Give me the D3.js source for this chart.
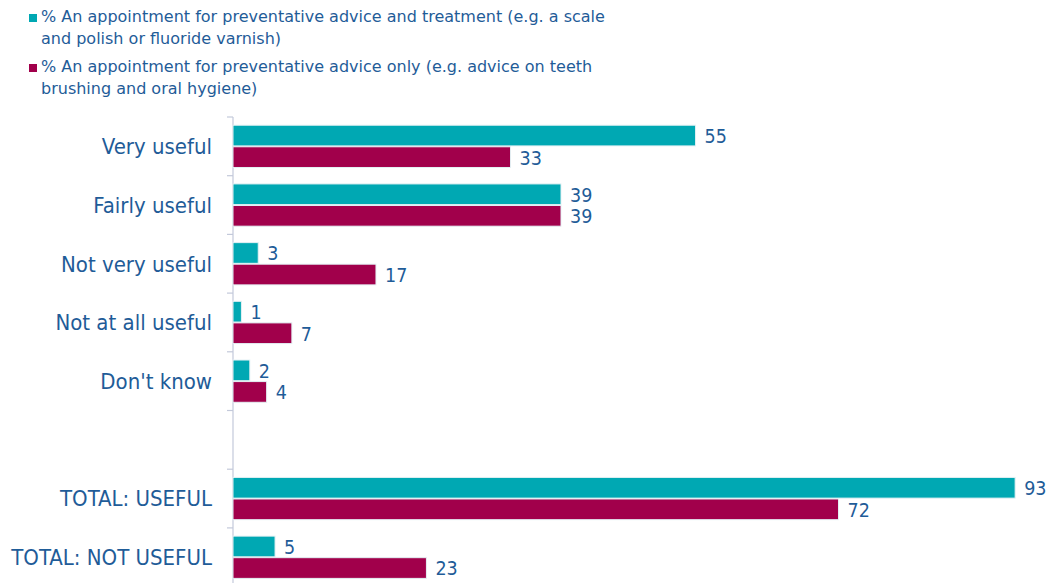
<!DOCTYPE html>
<html>
<head>
<meta charset="utf-8">
<script src="https://cdn.jsdelivr.net/npm/d3@7"></script>
<style>
  html, body { margin: 0; padding: 0; background: #ffffff; }
  svg { display: block; }
  text { font-family: "DejaVu Sans Condensed", "DejaVu Sans", sans-serif; font-stretch: condensed; fill: #1f5c98; }
  text.legend-text { font-family: "DejaVu Sans", sans-serif; font-stretch: normal; }
</style>
</head>
<body>
<svg id="chart" width="1048" height="583"></svg>
<script>
// Answer categories (the empty string is a spacer row between the detail and total groups)
const categories = ["Very useful", "Fairly useful", "Not very useful", "Not at all useful", "Don't know", "", "TOTAL: USEFUL", "TOTAL: NOT USEFUL"];

// Percentages per series
const treatmentValues = [55, 39, 3, 1, 2, null, 93, 5];
const adviceOnlyValues = [33, 39, 17, 7, 4, null, 72, 23];

const seriesNames = [
  ["% An appointment for preventative advice and treatment (e.g. a scale", "and polish or fluoride varnish)"],
  ["% An appointment for preventative advice only (e.g. advice on teeth", "brushing and oral hygiene)"]
];
const seriesColors = ["#00a8b3", "#a1004b"];

const svg = d3.select("#chart");

const plotLeft = 233, plotTop = 117, rowStep = 58.7;

const y = d3.scaleBand()
  .domain(categories)
  .range([plotTop, plotTop + rowStep * categories.length])
  .paddingInner(0.28)
  .paddingOuter(0.14);

const sub = d3.scaleBand()
  .domain([0, 1])
  .range([0, y.bandwidth()])
  .paddingInner(0.04);

const x = d3.scaleLinear().domain([0, 100]).range([plotLeft, plotLeft + 841]);

// Legend
const legend = svg.append("g");
seriesNames.forEach((lines, i) => {
  const g = legend.append("g").attr("transform", `translate(0, ${i * 50})`);
  g.append("rect").attr("x", 29).attr("y", 14).attr("width", 8).attr("height", 8)
    .attr("fill", seriesColors[i]);
  lines.forEach((ln, j) => {
    g.append("text").attr("class", "legend-text")
      .attr("x", 41).attr("y", 22 + j * 21.5)
      .attr("font-size", 16).text(ln);
  });
});

// Category axis on the left: line, boundary ticks and labels
const axisColor = "#c3c9da";
svg.append("line")
  .attr("x1", plotLeft).attr("x2", plotLeft)
  .attr("y1", plotTop).attr("y2", plotTop + rowStep * categories.length)
  .attr("stroke", axisColor).attr("stroke-width", 1.2);

d3.range(categories.length + 1).forEach(k => {
  const yy = plotTop + k * rowStep;
  svg.append("line").attr("x1", plotLeft - 6).attr("x2", plotLeft)
    .attr("y1", yy).attr("y2", yy)
    .attr("stroke", axisColor).attr("stroke-width", 1.2);
});

svg.append("g").selectAll("text")
  .data(categories)
  .join("text")
  .attr("x", plotLeft - 21)
  .attr("y", d => y(d) + y.bandwidth() / 2)
  .attr("dy", "0.36em")
  .attr("text-anchor", "end")
  .attr("font-size", 22)
  .text(d => d);

// Bars and value labels
const seriesValues = [treatmentValues, adviceOnlyValues];
seriesValues.forEach((vals, s) => {
  const rows = categories.map((c, i) => ({ c, v: vals[i] })).filter(d => d.v != null);
  svg.append("g").selectAll("rect")
    .data(rows)
    .join("rect")
    .attr("x", x(0))
    .attr("y", d => y(d.c) + sub(s))
    .attr("width", d => x(d.v) - x(0))
    .attr("height", sub.bandwidth())
    .attr("fill", seriesColors[s])
    .attr("stroke", "#e4f1f4")
    .attr("stroke-width", 1);

  svg.append("g").selectAll("text")
    .data(rows)
    .join("text")
    .attr("x", d => x(d.v) + 9)
    .attr("y", d => y(d.c) + sub(s) + sub.bandwidth() / 2)
    .attr("dy", "0.38em")
    .attr("font-size", 19.5)
    .text(d => d.v);
});
</script>
</body>
</html>
